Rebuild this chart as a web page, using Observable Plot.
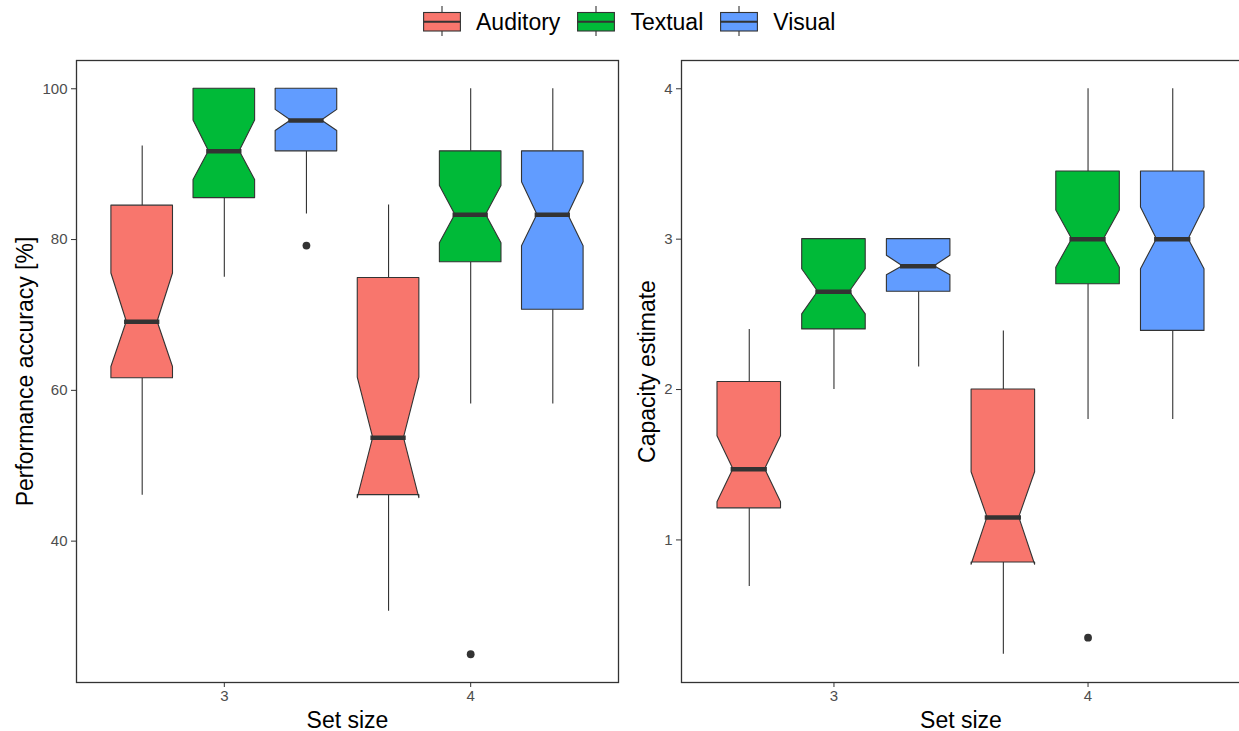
<!DOCTYPE html>
<html><head><meta charset="utf-8">
<script src="https://cdn.jsdelivr.net/npm/d3@7"></script>
<script src="https://cdn.jsdelivr.net/npm/@observablehq/plot@0.6"></script>
<style>
html,body{margin:0;padding:0;background:#fff;overflow:hidden;width:1239px;height:731px}
body{font-family:"Liberation Sans",Arial,sans-serif}
#legend{height:45px;display:flex;align-items:center;padding-left:423px;box-sizing:border-box}
.item{display:flex;align-items:center;margin-right:17px}
.item svg{display:block;margin-right:15px}
.item span{font-size:23px;color:#000;line-height:1}
#panels{display:flex;width:1240px}
#panels svg{display:block}
[aria-label="x-axis tick label"],[aria-label="y-axis tick label"]{font-size:15px}
[aria-label="x-axis label"],[aria-label="y-axis label"],
[aria-label="x-axis label"] text,[aria-label="y-axis label"] text{font-size:23px;fill:#000}
</style></head><body>
<div id="legend"></div>
<div id="panels"><div id="left"></div><div id="right"></div></div>
<script>
// ---- data ----
const setSizes = ["3", "4"];
const groups = ["Auditory", "Textual", "Visual"];
const colors = ["#F8766D", "#00BA38", "#619CFF"];
// order of each stats array: set 3 (Auditory, Textual, Visual), set 4 (Auditory, Textual, Visual)
const accLow     = [46.1, 75.0, 83.4, 30.7, 58.2, 58.2];
const accQ1      = [61.6, 85.5, 91.7, 46.1, 77.0, 70.7];
const accNotchLo = [63.1, 87.9, 94.4, 45.7, 79.5, 79.1];
const accMedian  = [69.1, 91.7, 95.8, 53.7, 83.3, 83.3];
const accNotchHi = [75.5, 95.8, 97.2, 61.7, 87.1, 87.6];
const accQ3      = [84.5, 100, 100, 74.9, 91.7, 91.7];
const accHigh    = [92.4, 100, 100, 84.6, 100, 100];
const accOutlierSet = ["3", "4"];
const accOutlierGroup = ["Visual", "Textual"];
const accOutlierValue = [79.2, 25.0];
const accTicks = [40, 60, 80, 100];

const capLow     = [0.69, 2.00, 2.15, 0.24, 1.80, 1.80];
const capQ1      = [1.21, 2.40, 2.65, 0.85, 2.70, 2.39];
const capNotchLo = [1.25, 2.50, 2.76, 0.835, 2.81, 2.80];
const capMedian  = [1.47, 2.65, 2.82, 1.15, 3.00, 3.00];
const capNotchHi = [1.69, 2.80, 2.89, 1.45, 3.19, 3.21];
const capQ3      = [2.05, 3.00, 3.00, 2.00, 3.45, 3.45];
const capHigh    = [2.40, 3.00, 3.00, 2.39, 4.00, 4.00];
const capOutlierSet = ["4"];
const capOutlierGroup = ["Textual"];
const capOutlierValue = [0.35];
const capTicks = [1, 2, 3, 4];

// ---- layout constants (ggplot-like dodge) ----
const dodge = 1 / 3, boxWidth = 0.25, notchWidth = 0.5;
const hw = boxWidth / 2, nw = hw * notchWidth;
const FONT = '"Liberation Sans", Arial, sans-serif';

function centerOf(set, group) {
  return setSizes.indexOf(set) + 1 + (groups.indexOf(group) - 1) * dodge;
}

function panel({low, q1, nlo, med, nhi, q3, high, oSet, oGroup, oValue, ticks, label, width, marginLeft, marginRight, labelOffset}) {
  const boxes = setSizes.flatMap((s, i) => groups.map((g, j) => {
    const k = i * groups.length + j;
    return {set: s, group: g, id: s + g, center: centerOf(s, g),
      low: low[k], q1: q1[k], nlo: nlo[k], med: med[k], nhi: nhi[k], q3: q3[k], high: high[k]};
  }));
  const outline = boxes.flatMap(b =>
    [[b.q3, hw], [b.nhi, hw], [b.med, nw], [b.nlo, hw], [b.q1, hw]].map(([y, w]) =>
      ({id: b.id, group: b.group, y, xl: b.center - w, xr: b.center + w})));
  const outliers = oValue.map((v, i) => ({x: centerOf(oSet[i], oGroup[i]), y: v}));
  const all = [...low, ...high, ...oValue];
  const lo = d3.min(all), hi = d3.max(all), pad = (hi - lo) * 0.05;
  return Plot.plot({
    width, height: 686, marginTop: 15, marginBottom: 49, marginLeft, marginRight,
    style: {fontFamily: FONT, background: "white", overflow: "visible"},
    x: {domain: [0.4, 2.6]},
    y: {domain: [lo - pad, hi + pad]},
    color: {domain: groups, range: colors},
    marks: [
      Plot.ruleX(boxes, {x: "center", y1: "q3", y2: "high", stroke: "#333", strokeWidth: 1.1}),
      Plot.ruleX(boxes, {x: "center", y1: "q1", y2: "low", stroke: "#333", strokeWidth: 1.1}),
      Plot.area(outline, {x1: "xl", x2: "xr", y1: "y", y2: "y", z: "id", fill: "group", stroke: "#333", strokeWidth: 1.1}),
      Plot.ruleY(boxes, {y: "med", x1: d => d.center - nw, x2: d => d.center + nw, stroke: "#333", strokeWidth: 4.5, strokeLinecap: "square"}),
      Plot.dot(outliers, {x: "x", y: "y", r: 3.9, fill: "#333", stroke: null}),
      Plot.frame({stroke: "#333", strokeWidth: 1.3}),
      Plot.axisX({ticks: [1, 2], tickFormat: d => setSizes[d - 1], label: "Set size", labelAnchor: "center", labelArrow: "none",
        labelOffset: 45, tickSize: 5, tickPadding: 3, fontSize: 15, fill: "#4d4d4d", stroke: "#333"}),
      Plot.axisY({ticks, tickFormat: d => String(d), label, labelAnchor: "center", labelArrow: "none",
        labelOffset, tickSize: 5, tickPadding: 4, fontSize: 15, fill: "#4d4d4d", stroke: "#333"})
    ]
  });
}

document.getElementById("left").append(panel({
  low: accLow, q1: accQ1, nlo: accNotchLo, med: accMedian, nhi: accNotchHi, q3: accQ3, high: accHigh,
  oSet: accOutlierSet, oGroup: accOutlierGroup, oValue: accOutlierValue, ticks: accTicks,
  label: "Performance accuracy [%]", width: 620, marginLeft: 76, marginRight: 2, labelOffset: 60
}));
document.getElementById("right").append(panel({
  low: capLow, q1: capQ1, nlo: capNotchLo, med: capMedian, nhi: capNotchHi, q3: capQ3, high: capHigh,
  oSet: capOutlierSet, oGroup: capOutlierGroup, oValue: capOutlierValue, ticks: capTicks,
  label: "Capacity estimate", width: 620, marginLeft: 61, marginRight: 0, labelOffset: 43
}));

// ---- legend ----
const legend = document.getElementById("legend");
groups.forEach((g, i) => {
  const item = document.createElement("div");
  item.className = "item";
  item.innerHTML = `<svg width="38" height="45" viewBox="0 0 38 45">
    <line x1="19" x2="19" y1="6" y2="12.5" stroke="#333" stroke-width="1.1"/>
    <line x1="19" x2="19" y1="31" y2="36" stroke="#333" stroke-width="1.1"/>
    <rect x="0.6" y="12.5" width="36.8" height="18.5" fill="${colors[i]}" stroke="#333" stroke-width="1.1"/>
    <line x1="0.6" x2="37.4" y1="21.75" y2="21.75" stroke="#333" stroke-width="2"/>
  </svg><span>${g}</span>`;
  legend.append(item);
});
</script>
</body></html>
